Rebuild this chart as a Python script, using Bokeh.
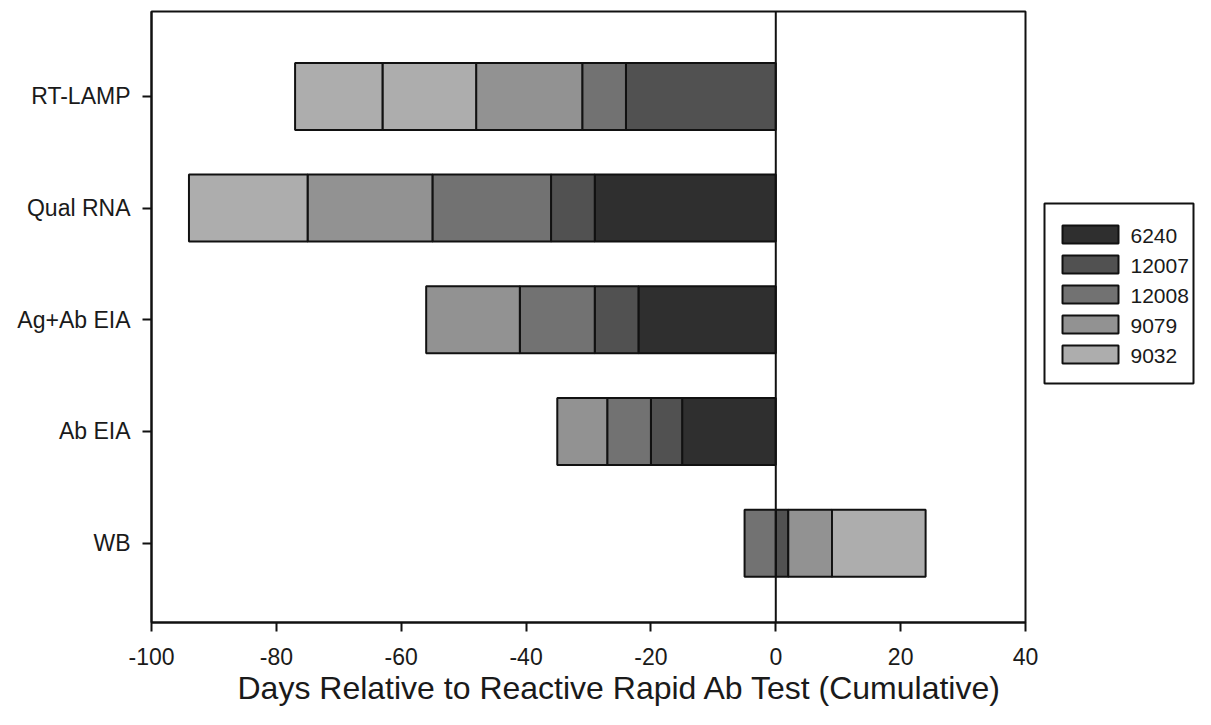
from bokeh.plotting import figure
from bokeh.layouts import row
from bokeh.models import Span, FixedTicker, Range1d, ColumnDataSource, Title
from bokeh.core.properties import value
from bokeh.embed import file_html
from bokeh.resources import INLINE

# ---- data ----
categories = ["RT-LAMP", "Qual RNA", "Ag+Ab EIA", "Ab EIA", "WB"]
series_names = ["6240", "12007", "12008", "9079", "9032"]
s6240 = [0, -29, -22, -15, 0]
s12007 = [-24, -7, -7, -5, 2]
s12008 = [-7, -19, -12, -7, -5]
s9079 = [-17, -20, -15, -8, 7]
s9032 = [-15, -19, 0, 0, 15]
s9032_extra = [-14, 0, 0, 0, 0]   # extra light segment drawn on RT-LAMP
x_ticks = [-100, -80, -60, -40, -20, 0, 20, 40]
colors = ["#2f2f2f", "#515151", "#727272", "#929292", "#adadad"]
x_label = "Days Relative to Reactive Rapid Ab Test (Cumulative)"

FONT = "Liberation Sans"
INK = "#111111"
ys = [len(categories) - i for i in range(len(categories))]

MAIN_W = 1042
p = figure(width=MAIN_W, height=709, output_backend="svg", toolbar_location=None,
           x_range=Range1d(-100, 40), y_range=Range1d(0.29, 5.76),
           min_border_left=151, min_border_right=17, min_border_top=11,
           min_border_bottom=87)
p.xgrid.visible = False
p.ygrid.visible = False
p.outline_line_color = INK
p.outline_line_width = 2
p.background_fill_color = "white"
p.border_fill_color = "white"

neg = [0.0] * len(categories)
pos = [0.0] * len(categories)
all_series = [s6240, s12007, s12008, s9079, s9032, s9032_extra]
all_colors = colors + [colors[-1]]
for vals, col in zip(all_series, all_colors):
    lefts, rights, yy = [], [], []
    for i, v in enumerate(vals):
        if v == 0:
            continue
        if v < 0:
            rights.append(neg[i]); lefts.append(neg[i] + v); neg[i] += v
        else:
            lefts.append(pos[i]); rights.append(pos[i] + v); pos[i] += v
        yy.append(ys[i])
    src = ColumnDataSource(dict(y=yy, left=lefts, right=rights))
    p.hbar(y="y", left="left", right="right", height=0.6, source=src,
           fill_color=col, line_color=INK, line_width=2)

p.add_layout(Span(location=0, dimension="height", line_color=INK, line_width=2))

for ax in (p.xaxis[0], p.yaxis[0]):
    ax.axis_line_color = INK
    ax.axis_line_width = 2
    ax.major_tick_line_color = INK
    ax.major_tick_line_width = 2
    ax.major_tick_in = 0
    ax.major_tick_out = 9
    ax.minor_tick_line_color = None
    ax.major_label_text_font = FONT
    ax.major_label_text_font_size = "23px"
    ax.major_label_text_color = "#1a1a1a"

p.xaxis.ticker = FixedTicker(ticks=x_ticks)
p.xaxis.major_label_overrides = {t: str(t) for t in x_ticks}
p.xaxis.major_label_standoff = 16

p.yaxis.ticker = FixedTicker(ticks=ys)
p.yaxis.major_label_overrides = {y: c for y, c in zip(ys, categories)}
p.yaxis.major_label_standoff = 12

p.add_layout(Title(text=x_label, align="left", offset=86, standoff=0,
                   text_font=FONT, text_font_size="32px", text_font_style="normal",
                   text_color="#1a1a1a"), "below")

# ---- legend panel (separate small figure to the right; its frame aligns
#      with the main frame, so ranges map page pixels) ----
LG_W = 1195 - MAIN_W
lg = figure(width=LG_W, height=709, output_backend="svg", toolbar_location=None,
            x_range=Range1d(MAIN_W, 1195), y_range=Range1d(622, 11),
            min_border=0)
lg.axis.visible = False
lg.xgrid.visible = False
lg.ygrid.visible = False
lg.outline_line_color = None
lg.background_fill_color = "white"
lg.border_fill_color = "white"

box_l, box_r, box_t, box_b = 1044, 1193, 203, 383
lg.quad(left=[box_l], right=[box_r], top=[box_t], bottom=[box_b],
        fill_color="white", line_color=INK, line_width=2)
n = len(series_names)
row_pitch = 30
first_top = 225
sw_top = [first_top + row_pitch * i for i in range(n)]
sw_bot = [t + 18 for t in sw_top]
lg.quad(left=[box_l + 18] * n, right=[box_l + 74] * n, top=sw_top, bottom=sw_bot,
        fill_color=colors, line_color=INK, line_width=2)
lg.text(x=[box_l + 86] * n, y=[t + 10 for t in sw_top], text=series_names,
        text_font=value(FONT), text_font_size="21px", text_baseline="middle",
        text_align="left", text_color="#1a1a1a")

layout = row(p, lg, spacing=0)
open("out.html", "w").write(file_html(layout, INLINE))
